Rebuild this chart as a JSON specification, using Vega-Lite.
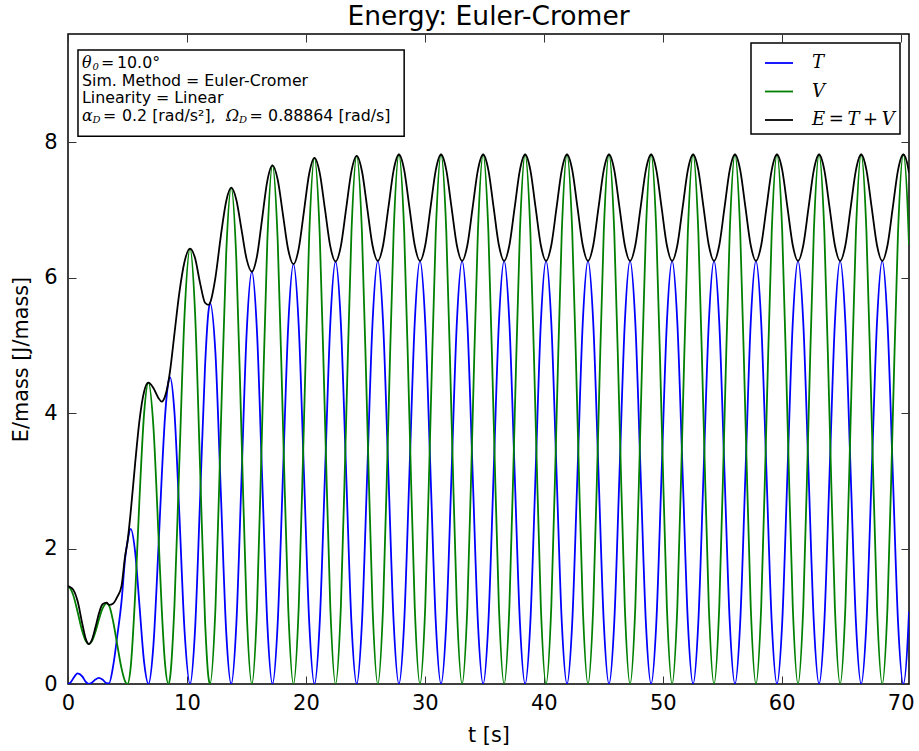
{
  "$schema": "https://vega.github.io/schema/vega-lite/v6.json",
  "width": 841,
  "height": 650,
  "autosize": {"type": "none"},
  "padding": {"left": 68, "top": 34, "right": 10, "bottom": 67},
  "background": "white",
  "title": {"text": "Energy: Euler-Cromer", "font": "DejaVu Sans", "fontSize": 26.5, "fontWeight": "normal", "color": "black", "offset": 3, "anchor": "middle"},
  "config": {
    "view": {"stroke": "black", "strokeWidth": 1.5},
    "axis": {"labelFont": "DejaVu Sans", "labelFontSize": 21, "labelColor": "black", "titleFont": "DejaVu Sans", "titleFontSize": 20.8, "titleFontWeight": "normal", "titleColor": "black", "grid": false, "domain": false, "tickColor": "#333333", "tickSize": -8, "tickWidth": 1},
    "legend": {"orient": "top-right", "offset": 9, "strokeColor": "black", "strokeWidth": 1.5, "fillColor": "white", "padding": 5, "symbolOffset": 8, "symbolType": "stroke", "symbolSize": 784, "symbolStrokeWidth": 1.8, "labelFont": "DejaVu Serif", "labelFontStyle": "italic", "labelFontSize": 18, "labelColor": "black", "labelOffset": 18, "rowPadding": 4.5, "titlePadding": 0}
  },
  "datasets": {
    "energy": [
      {"t": 0, "T": 0, "V": 1.44, "E": 1.44},
      {"t": 0.2, "T": 0.02, "V": 1.41, "E": 1.43},
      {"t": 0.45, "T": 0.084, "V": 1.306, "E": 1.39},
      {"t": 0.8, "T": 0.157, "V": 1.071, "E": 1.228},
      {"t": 1.2, "T": 0.112, "V": 0.78, "E": 0.892},
      {"t": 1.5, "T": 0.03, "V": 0.633, "E": 0.663},
      {"t": 1.75, "T": 0, "V": 0.59, "E": 0.59},
      {"t": 2.0, "T": 0.018, "V": 0.63, "E": 0.648},
      {"t": 2.3, "T": 0.065, "V": 0.768, "E": 0.833},
      {"t": 2.6, "T": 0.09, "V": 0.952, "E": 1.042},
      {"t": 2.9, "T": 0.065, "V": 1.112, "E": 1.177},
      {"t": 3.25, "T": 0.012, "V": 1.19, "E": 1.202},
      {"t": 3.45, "T": 0.01, "V": 1.16, "E": 1.17},
      {"t": 3.8, "T": 0.27, "V": 0.92, "E": 1.19},
      {"t": 4.15, "T": 0.72, "V": 0.57, "E": 1.29},
      {"t": 4.5, "T": 1.22, "V": 0.23, "E": 1.45},
      {"t": 4.8, "T": 1.85, "V": 0.04, "E": 1.89},
      {"t": 5.0, "T": 2.1, "V": 0, "E": 2.1},
      {"t": 5.27, "T": 2.29, "V": 0.25, "E": 2.54},
      {"t": 5.65, "T": 1.94, "V": 1.33, "E": 3.27},
      {"t": 6.0, "T": 1.18, "V": 2.7, "E": 3.88},
      {"t": 6.4, "T": 0.32, "V": 4.0, "E": 4.32},
      {"t": 6.76, "T": 0, "V": 4.45, "E": 4.45},
      {"t": 7.18, "T": 0.57, "V": 3.8, "E": 4.37},
      {"t": 7.6, "T": 2.0, "V": 2.225, "E": 4.225},
      {"t": 7.88, "T": 3.06, "V": 1.11, "E": 4.17},
      {"t": 8.15, "T": 3.93, "V": 0.315, "E": 4.245},
      {"t": 8.44, "T": 4.46, "V": 0, "E": 4.46},
      {"t": 8.58, "T": 4.53, "V": 0.093, "E": 4.623},
      {"t": 8.95, "T": 4.01, "V": 1.165, "E": 5.175},
      {"t": 9.35, "T": 2.55, "V": 3.215, "E": 5.765},
      {"t": 9.8, "T": 0.78, "V": 5.46, "E": 6.24},
      {"t": 10.26, "T": 0, "V": 6.43, "E": 6.43},
      {"t": 10.68, "T": 0.8, "V": 5.49, "E": 6.29},
      {"t": 11.1, "T": 2.71, "V": 3.215, "E": 5.925},
      {"t": 11.52, "T": 4.69, "V": 0.94, "E": 5.63},
      {"t": 11.8, "T": 5.49, "V": 0.11, "E": 5.6},
      {"t": 11.94, "T": 5.63, "V": 0, "E": 5.63},
      {"t": 12.4, "T": 4.87, "V": 1.14, "E": 6.01},
      {"t": 12.85, "T": 2.82, "V": 3.8, "E": 6.62},
      {"t": 13.3, "T": 0.77, "V": 6.36, "E": 7.13},
      {"t": 13.72, "T": 0, "V": 7.33, "E": 7.33},
      {"t": 14.154, "T": 0.892, "V": 6.257, "E": 7.149},
      {"t": 14.588, "T": 3.045, "V": 3.665, "E": 6.71},
      {"t": 15.021, "T": 5.198, "V": 1.073, "E": 6.271},
      {"t": 15.455, "T": 6.09, "V": 0, "E": 6.09},
      {"t": 15.889, "T": 5.198, "V": 1.121, "E": 6.319},
      {"t": 16.322, "T": 3.045, "V": 3.83, "E": 6.875},
      {"t": 16.756, "T": 0.892, "V": 6.539, "E": 7.431},
      {"t": 17.19, "T": 0, "V": 7.66, "E": 7.66},
      {"t": 17.631, "T": 0.908, "V": 6.539, "E": 7.447},
      {"t": 18.073, "T": 3.1, "V": 3.83, "E": 6.93},
      {"t": 18.514, "T": 5.292, "V": 1.121, "E": 6.413},
      {"t": 18.955, "T": 6.2, "V": 0, "E": 6.2},
      {"t": 19.396, "T": 5.292, "V": 1.138, "E": 6.43},
      {"t": 19.838, "T": 3.1, "V": 3.885, "E": 6.985},
      {"t": 20.279, "T": 0.908, "V": 6.632, "E": 7.54},
      {"t": 20.72, "T": 0, "V": 7.77, "E": 7.77},
      {"t": 21.164, "T": 0.914, "V": 6.632, "E": 7.546},
      {"t": 21.608, "T": 3.12, "V": 3.885, "E": 7.005},
      {"t": 22.051, "T": 5.326, "V": 1.138, "E": 6.464},
      {"t": 22.495, "T": 6.24, "V": 0, "E": 6.24},
      {"t": 22.939, "T": 5.326, "V": 1.142, "E": 6.468},
      {"t": 23.383, "T": 3.12, "V": 3.9, "E": 7.02},
      {"t": 23.826, "T": 0.914, "V": 6.658, "E": 7.572},
      {"t": 24.27, "T": 0, "V": 7.8, "E": 7.8},
      {"t": 24.714, "T": 0.915, "V": 6.658, "E": 7.573},
      {"t": 25.158, "T": 3.125, "V": 3.9, "E": 7.025},
      {"t": 25.601, "T": 5.335, "V": 1.142, "E": 6.477},
      {"t": 26.045, "T": 6.25, "V": 0, "E": 6.25},
      {"t": 26.489, "T": 5.335, "V": 1.145, "E": 6.48},
      {"t": 26.933, "T": 3.125, "V": 3.91, "E": 7.035},
      {"t": 27.376, "T": 0.915, "V": 6.675, "E": 7.59},
      {"t": 27.82, "T": 0, "V": 7.82, "E": 7.82},
      {"t": 28.263, "T": 0.915, "V": 6.675, "E": 7.59},
      {"t": 28.705, "T": 3.125, "V": 3.91, "E": 7.035},
      {"t": 29.148, "T": 5.335, "V": 1.145, "E": 6.48},
      {"t": 29.59, "T": 6.25, "V": 0, "E": 6.25},
      {"t": 30.033, "T": 5.335, "V": 1.145, "E": 6.48},
      {"t": 30.475, "T": 3.125, "V": 3.91, "E": 7.035},
      {"t": 30.918, "T": 0.915, "V": 6.675, "E": 7.59},
      {"t": 31.36, "T": 0, "V": 7.82, "E": 7.82},
      {"t": 31.803, "T": 0.915, "V": 6.675, "E": 7.59},
      {"t": 32.245, "T": 3.125, "V": 3.91, "E": 7.035},
      {"t": 32.688, "T": 5.335, "V": 1.145, "E": 6.48},
      {"t": 33.13, "T": 6.25, "V": 0, "E": 6.25},
      {"t": 33.573, "T": 5.335, "V": 1.145, "E": 6.48},
      {"t": 34.015, "T": 3.125, "V": 3.91, "E": 7.035},
      {"t": 34.458, "T": 0.915, "V": 6.675, "E": 7.59},
      {"t": 34.9, "T": 0, "V": 7.82, "E": 7.82},
      {"t": 35.341, "T": 0.915, "V": 6.675, "E": 7.59},
      {"t": 35.783, "T": 3.125, "V": 3.91, "E": 7.035},
      {"t": 36.224, "T": 5.335, "V": 1.145, "E": 6.48},
      {"t": 36.665, "T": 6.25, "V": 0, "E": 6.25},
      {"t": 37.106, "T": 5.335, "V": 1.145, "E": 6.48},
      {"t": 37.548, "T": 3.125, "V": 3.91, "E": 7.035},
      {"t": 37.989, "T": 0.915, "V": 6.675, "E": 7.59},
      {"t": 38.43, "T": 0, "V": 7.82, "E": 7.82},
      {"t": 38.87, "T": 0.915, "V": 6.675, "E": 7.59},
      {"t": 39.31, "T": 3.125, "V": 3.91, "E": 7.035},
      {"t": 39.75, "T": 5.335, "V": 1.145, "E": 6.48},
      {"t": 40.19, "T": 6.25, "V": 0, "E": 6.25},
      {"t": 40.63, "T": 5.335, "V": 1.145, "E": 6.48},
      {"t": 41.07, "T": 3.125, "V": 3.91, "E": 7.035},
      {"t": 41.51, "T": 0.915, "V": 6.675, "E": 7.59},
      {"t": 41.95, "T": 0, "V": 7.82, "E": 7.82},
      {"t": 42.391, "T": 0.915, "V": 6.675, "E": 7.59},
      {"t": 42.833, "T": 3.125, "V": 3.91, "E": 7.035},
      {"t": 43.274, "T": 5.335, "V": 1.145, "E": 6.48},
      {"t": 43.715, "T": 6.25, "V": 0, "E": 6.25},
      {"t": 44.156, "T": 5.335, "V": 1.145, "E": 6.48},
      {"t": 44.598, "T": 3.125, "V": 3.91, "E": 7.035},
      {"t": 45.039, "T": 0.915, "V": 6.675, "E": 7.59},
      {"t": 45.48, "T": 0, "V": 7.82, "E": 7.82},
      {"t": 45.923, "T": 0.915, "V": 6.675, "E": 7.59},
      {"t": 46.365, "T": 3.125, "V": 3.91, "E": 7.035},
      {"t": 46.808, "T": 5.335, "V": 1.145, "E": 6.48},
      {"t": 47.25, "T": 6.25, "V": 0, "E": 6.25},
      {"t": 47.693, "T": 5.335, "V": 1.145, "E": 6.48},
      {"t": 48.135, "T": 3.125, "V": 3.91, "E": 7.035},
      {"t": 48.578, "T": 0.915, "V": 6.675, "E": 7.59},
      {"t": 49.02, "T": 0, "V": 7.82, "E": 7.82},
      {"t": 49.461, "T": 0.915, "V": 6.675, "E": 7.59},
      {"t": 49.903, "T": 3.125, "V": 3.91, "E": 7.035},
      {"t": 50.344, "T": 5.335, "V": 1.145, "E": 6.48},
      {"t": 50.785, "T": 6.25, "V": 0, "E": 6.25},
      {"t": 51.226, "T": 5.335, "V": 1.145, "E": 6.48},
      {"t": 51.668, "T": 3.125, "V": 3.91, "E": 7.035},
      {"t": 52.109, "T": 0.915, "V": 6.675, "E": 7.59},
      {"t": 52.55, "T": 0, "V": 7.82, "E": 7.82},
      {"t": 52.99, "T": 0.915, "V": 6.675, "E": 7.59},
      {"t": 53.43, "T": 3.125, "V": 3.91, "E": 7.035},
      {"t": 53.87, "T": 5.335, "V": 1.145, "E": 6.48},
      {"t": 54.31, "T": 6.25, "V": 0, "E": 6.25},
      {"t": 54.75, "T": 5.335, "V": 1.145, "E": 6.48},
      {"t": 55.19, "T": 3.125, "V": 3.91, "E": 7.035},
      {"t": 55.63, "T": 0.915, "V": 6.675, "E": 7.59},
      {"t": 56.07, "T": 0, "V": 7.82, "E": 7.82},
      {"t": 56.511, "T": 0.915, "V": 6.675, "E": 7.59},
      {"t": 56.953, "T": 3.125, "V": 3.91, "E": 7.035},
      {"t": 57.394, "T": 5.335, "V": 1.145, "E": 6.48},
      {"t": 57.835, "T": 6.25, "V": 0, "E": 6.25},
      {"t": 58.276, "T": 5.335, "V": 1.145, "E": 6.48},
      {"t": 58.718, "T": 3.125, "V": 3.91, "E": 7.035},
      {"t": 59.159, "T": 0.915, "V": 6.675, "E": 7.59},
      {"t": 59.6, "T": 0, "V": 7.82, "E": 7.82},
      {"t": 60.043, "T": 0.915, "V": 6.675, "E": 7.59},
      {"t": 60.485, "T": 3.125, "V": 3.91, "E": 7.035},
      {"t": 60.928, "T": 5.335, "V": 1.145, "E": 6.48},
      {"t": 61.37, "T": 6.25, "V": 0, "E": 6.25},
      {"t": 61.813, "T": 5.335, "V": 1.145, "E": 6.48},
      {"t": 62.255, "T": 3.125, "V": 3.91, "E": 7.035},
      {"t": 62.698, "T": 0.915, "V": 6.675, "E": 7.59},
      {"t": 63.14, "T": 0, "V": 7.82, "E": 7.82},
      {"t": 63.583, "T": 0.915, "V": 6.675, "E": 7.59},
      {"t": 64.025, "T": 3.125, "V": 3.91, "E": 7.035},
      {"t": 64.468, "T": 5.335, "V": 1.145, "E": 6.48},
      {"t": 64.91, "T": 6.25, "V": 0, "E": 6.25},
      {"t": 65.353, "T": 5.335, "V": 1.145, "E": 6.48},
      {"t": 65.795, "T": 3.125, "V": 3.91, "E": 7.035},
      {"t": 66.238, "T": 0.915, "V": 6.675, "E": 7.59},
      {"t": 66.68, "T": 0, "V": 7.82, "E": 7.82},
      {"t": 67.123, "T": 0.915, "V": 6.675, "E": 7.59},
      {"t": 67.565, "T": 3.125, "V": 3.91, "E": 7.035},
      {"t": 68.008, "T": 5.335, "V": 1.145, "E": 6.48},
      {"t": 68.45, "T": 6.25, "V": 0, "E": 6.25},
      {"t": 68.893, "T": 5.335, "V": 1.145, "E": 6.48},
      {"t": 69.335, "T": 3.125, "V": 3.91, "E": 7.035},
      {"t": 69.778, "T": 0.915, "V": 6.675, "E": 7.59},
      {"t": 70.22, "T": 0, "V": 7.82, "E": 7.82},
      {"t": 70.662, "T": 0.915, "V": 6.675, "E": 7.59},
      {"t": 70.7, "T": 1.07, "V": 6.48, "E": 7.55}
    ],
    "box": [{"x1": 0.84, "x2": 28.26, "y1": 9.362, "y2": 8.09}],
    "ann": [
      {"x": 1.177, "y": 9.105, "text": "θ", "kind": "math"},
      {"x": 2.06, "y": 9.105, "text": "0", "kind": "sub"},
      {"x": 2.775, "y": 9.105, "text": "=", "kind": "plain"},
      {"x": 4.12, "y": 9.105, "text": "10.0°", "kind": "plain"},
      {"x": 1.177, "y": 8.839, "text": "Sim. Method = Euler-Cromer", "kind": "plain"},
      {"x": 1.177, "y": 8.574, "text": "Linearity = Linear", "kind": "plain"},
      {"x": 1.177, "y": 8.308, "text": "α", "kind": "math"},
      {"x": 2.06, "y": 8.308, "text": "D", "kind": "sub"},
      {"x": 2.944, "y": 8.308, "text": "=", "kind": "plain"},
      {"x": 4.542, "y": 8.308, "text": "0.2 [rad/s²],", "kind": "plain"},
      {"x": 13.288, "y": 8.308, "text": "Ω", "kind": "math"},
      {"x": 14.38, "y": 8.308, "text": "D", "kind": "sub"},
      {"x": 15.265, "y": 8.308, "text": "=", "kind": "plain"},
      {"x": 16.821, "y": 8.308, "text": "0.88864 [rad/s]", "kind": "plain"}
    ]
  },
  "resolve": {"axis": {"x": "independent", "y": "independent"}},
  "layer": [
    {
      "data": {"name": "energy"},
      "mark": {"type": "line", "interpolate": "monotone", "strokeWidth": 1.8, "clip": true},
      "encoding": {
        "x": {"field": "t", "type": "quantitative", "scale": {"domain": [0, 70.7], "nice": false, "zero": false}, "axis": {"orient": "bottom", "values": [0, 10, 20, 30, 40, 50, 60, 70], "title": "t [s]", "labelPadding": 16, "titlePadding": 12, "labelFlush": false}},
        "y": {"field": "T", "type": "quantitative", "scale": {"domain": [0, 9.6], "nice": false, "zero": false}, "axis": {"orient": "left", "values": [0, 2, 4, 6, 8], "title": "E/mass [J/mass]", "labelPadding": 19, "titlePadding": 12, "labelFlush": false}},
        "color": {"datum": "T", "type": "nominal", "scale": {"domain": ["T", "V", "E"], "range": ["#0000ff", "#008000", "#000000"]}, "legend": {"title": null, "labelExpr": "datum.label == 'E' ? 'E\u2009=\u2009T\u2009+\u2009V' : datum.label"}}
      }
    },
    {
      "data": {"name": "energy"},
      "mark": {"type": "line", "interpolate": "monotone", "strokeWidth": 1.8, "clip": true},
      "encoding": {
        "x": {"field": "t", "type": "quantitative", "axis": {"orient": "top", "values": [0, 10, 20, 30, 40, 50, 60, 70], "labels": false, "title": null}},
        "y": {"field": "V", "type": "quantitative", "axis": {"orient": "right", "values": [0, 2, 4, 6, 8], "labels": false, "title": null}},
        "color": {"datum": "V", "type": "nominal"}
      }
    },
    {
      "data": {"name": "energy"},
      "mark": {"type": "line", "interpolate": "monotone", "strokeWidth": 1.8, "clip": true},
      "encoding": {
        "x": {"field": "t", "type": "quantitative", "axis": null},
        "y": {"field": "E", "type": "quantitative", "axis": null},
        "color": {"datum": "E", "type": "nominal"}
      }
    },
    {
      "data": {"name": "box"},
      "mark": {"type": "rect", "fill": "white", "stroke": "black", "strokeWidth": 1.5},
      "encoding": {
        "x": {"field": "x1", "type": "quantitative", "axis": null},
        "x2": {"field": "x2"},
        "y": {"field": "y1", "type": "quantitative", "axis": null},
        "y2": {"field": "y2"}
      }
    },
    {
      "data": {"name": "ann"},
      "transform": [{"filter": "datum.kind == 'plain'"}],
      "mark": {"type": "text", "font": "DejaVu Sans", "fontSize": 15.8, "align": "left", "baseline": "alphabetic", "color": "black"},
      "encoding": {
        "x": {"field": "x", "type": "quantitative", "axis": null},
        "y": {"field": "y", "type": "quantitative", "axis": null},
        "text": {"field": "text"}
      }
    },
    {
      "data": {"name": "ann"},
      "transform": [{"filter": "datum.kind == 'math'"}],
      "mark": {"type": "text", "font": "DejaVu Serif", "fontStyle": "italic", "fontSize": 15.8, "align": "left", "baseline": "alphabetic", "color": "black"},
      "encoding": {
        "x": {"field": "x", "type": "quantitative", "axis": null},
        "y": {"field": "y", "type": "quantitative", "axis": null},
        "text": {"field": "text"}
      }
    },
    {
      "data": {"name": "ann"},
      "transform": [{"filter": "datum.kind == 'sub'"}],
      "mark": {"type": "text", "font": "DejaVu Serif", "fontStyle": "italic", "fontSize": 10, "align": "left", "baseline": "alphabetic", "dy": 2, "color": "black"},
      "encoding": {
        "x": {"field": "x", "type": "quantitative", "axis": null},
        "y": {"field": "y", "type": "quantitative", "axis": null},
        "text": {"field": "text"}
      }
    }
  ]
}
